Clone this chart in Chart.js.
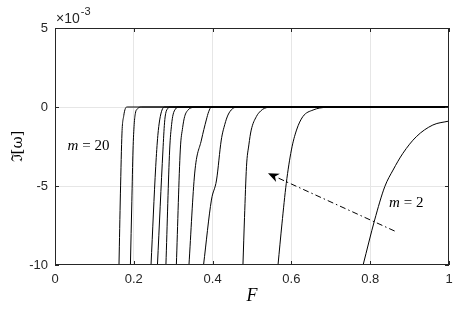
<!DOCTYPE html>
<html lang="en">
<head>
<meta charset="UTF-8">
<title>Im(omega) vs F</title>
<script src="https://cdn.jsdelivr.net/npm/chart.js"></script>
<style>
  html, body { margin: 0; padding: 0; background: #fff; }
  canvas { display: block; }
</style>
</head>
<body>
<canvas id="chart" width="472" height="316"></canvas>
<script>
// curves: F values and Im[omega] in units of 1e-3
// (leftmost curve is m = 20, rightmost is m = 2)
const F1 = [0.1624, 0.1660, 0.1700, 0.1745, 0.1785, 0.183, 1];
const W1 = [-10, -5.5, -1.65, -0.55, -0.1, 0, 0];
const F2 = [0.1914, 0.1950, 0.1980, 0.2010, 0.2040, 0.2100, 0.2200, 1];
const W2 = [-10, -6, -2.72, -1.1, -0.4, -0.1, 0, 0];
const F3 = [0.2437, 0.2556, 0.2610, 0.2657, 0.2716, 0.2780, 1];
const W3 = [-10, -3.78, -1.8, -0.82, -0.19, 0, 0];
const F4 = [0.2600, 0.2740, 0.2780, 0.2810, 0.2860, 0.2920, 1];
const W4 = [-10, -2.72, -1.0, -0.4, -0.1, 0, 0];
const F5 = [0.2815, 0.2910, 0.2960, 0.2995, 0.3060, 0.3130, 1];
const W5 = [-10, -2.72, -1.1, -0.5, -0.12, 0, 0];
const F6 = [0.3080, 0.3180, 0.3240, 0.3290, 0.3380, 0.3460, 0.3550, 1];
const W6 = [-10, -2.72, -1.3, -0.61, -0.18, -0.05, 0, 0];
const F7 = [0.3400, 0.3546, 0.3716, 0.3840, 0.3900, 0.3970, 1];
const W7 = [-10, -4.18, -2.09, -0.82, -0.3, 0, 0];
const F8 = [0.3770, 0.3970, 0.4100, 0.4220, 0.4310, 0.4390, 0.4500, 0.4640, 1];
const W8 = [-10, -5.89, -4.62, -2.09, -1.1, -0.51, -0.12, 0, 0];
const F9 = [0.4770, 0.4810, 0.4860, 0.4920, 0.4980, 0.5110, 0.5220, 0.5320, 0.5530, 1];
const W9 = [-10, -7, -3.78, -2.4, -1.46, -0.61, -0.25, -0.08, 0, 0];
const F10 = [0.5660, 0.5760, 0.5870, 0.6000, 0.6130, 0.6290, 0.6550, 0.6890, 0.7500, 1];
const W10 = [-10, -7.4, -4.83, -2.72, -1.46, -0.61, -0.19, -0.02, 0, 0];
const F11 = [0.7820, 0.8113, 0.8370, 0.8580, 0.8830, 0.9170, 0.9590, 1.0];
const W11 = [-10, -7.15, -5.04, -3.99, -2.93, -1.88, -1.14, -0.89];

const xTicks = [0, 0.2, 0.4, 0.6, 0.8, 1];
const yTicks = [-10, -5, 0, 5];

// arrow (tail -> head) and the two m labels, in data units
const arrowF = [0.862, 0.5406];
const arrowW = [-7.85, -4.2];
const labelText = ['20', '2'];
const labelF = [0.032, 0.848];
const labelW = [-2.75, -6.35];

const curves = [[F1, W1], [F2, W2], [F3, W3], [F4, W4], [F5, W5], [F6, W6],
                [F7, W7], [F8, W8], [F9, W9], [F10, W10], [F11, W11]];

const datasets = curves.map(c => ({
  data: c[0].map((f, i) => ({ x: f, y: c[1][i] })),
  borderColor: '#000',
  borderWidth: 1,
  pointRadius: 0,
  fill: false,
  cubicInterpolationMode: 'monotone'
}));

const ink = '#262626';
const sans = '"Liberation Sans", Arial, sans-serif';

const overlay = {
  id: 'overlay',
  afterDraw(chart) {
    const ctx = chart.ctx;
    const a = chart.chartArea;
    const xs = chart.scales.x, ys = chart.scales.y;
    ctx.save();

    // box and inward ticks
    ctx.strokeStyle = ink;
    ctx.lineWidth = 1;
    ctx.strokeRect(a.left + 0.5, a.top + 0.5, a.right - a.left - 1, a.bottom - a.top - 1);
    ctx.beginPath();
    xTicks.forEach(t => {
      const px = Math.round(xs.getPixelForValue(t)) + 0.5;
      ctx.moveTo(px, a.bottom); ctx.lineTo(px, a.bottom - 4);
      ctx.moveTo(px, a.top); ctx.lineTo(px, a.top + 4);
    });
    yTicks.forEach(t => {
      const py = Math.round(ys.getPixelForValue(t)) + 0.5;
      ctx.moveTo(a.left, py); ctx.lineTo(a.left + 4, py);
      ctx.moveTo(a.right, py); ctx.lineTo(a.right - 4, py);
    });
    ctx.stroke();

    // exponent
    ctx.fillStyle = ink;
    ctx.textBaseline = 'alphabetic';
    ctx.textAlign = 'left';
    ctx.font = '14px ' + sans;
    ctx.fillText('\u00d710', a.left + 1, 23);
    const w = ctx.measureText('\u00d710').width;
    ctx.font = '11px ' + sans;
    ctx.fillText('-3', a.left + 1 + w + 1, 15);

    // dash-dot arrow
    const x0 = xs.getPixelForValue(arrowF[0]), y0 = ys.getPixelForValue(arrowW[0]);
    const x1 = xs.getPixelForValue(arrowF[1]), y1 = ys.getPixelForValue(arrowW[1]);
    const ang = Math.atan2(y1 - y0, x1 - x0);
    const hl = 11, hw = 4.5;
    const bx = x1 - hl * Math.cos(ang), by = y1 - hl * Math.sin(ang);
    ctx.strokeStyle = '#000';
    ctx.setLineDash([6, 3, 1.5, 3]);
    ctx.beginPath();
    ctx.moveTo(x0, y0); ctx.lineTo(bx, by);
    ctx.stroke();
    ctx.setLineDash([]);
    ctx.fillStyle = '#000';
    ctx.beginPath();
    ctx.moveTo(x1, y1);
    ctx.lineTo(bx + hw * Math.sin(ang), by - hw * Math.cos(ang));
    ctx.lineTo(x1 - 0.7 * hl * Math.cos(ang), y1 - 0.7 * hl * Math.sin(ang));
    ctx.lineTo(bx - hw * Math.sin(ang), by + hw * Math.cos(ang));
    ctx.closePath();
    ctx.fill();

    // m labels
    labelText.forEach((t, i) => {
      let px = xs.getPixelForValue(labelF[i]);
      const py = ys.getPixelForValue(labelW[i]);
      ctx.font = 'italic 15px "Liberation Serif", "DejaVu Serif", serif';
      ctx.fillText('m', px, py);
      px += ctx.measureText('m').width;
      ctx.font = '15px "Liberation Serif", "DejaVu Serif", serif';
      ctx.fillText(' = ' + t, px, py);
    });

    // axis titles
    ctx.textAlign = 'center';
    ctx.textBaseline = 'middle';
    ctx.font = 'italic 18px "Liberation Serif", "DejaVu Serif", serif';
    ctx.fillText('F', (a.left + a.right) / 2, 296);
    ctx.translate(18, (a.top + a.bottom) / 2);
    ctx.rotate(-Math.PI / 2);
    ctx.font = '15px "DejaVu Serif", serif';
    ctx.fillText('\u2111[\u03c9]', 0, 0);
    ctx.restore();
  }
};

const edgeless = (ctx, lo, hi) => (ctx.tick && (ctx.tick.value === lo || ctx.tick.value === hi)) ? 'rgba(0,0,0,0)' : '#e6e6e6';

new Chart(document.getElementById('chart'), {
  type: 'line',
  data: { datasets },
  options: {
    responsive: false,
    animation: false,
    layout: { padding: { top: 28, right: 23, left: 0, bottom: 0 } },
    plugins: { legend: { display: false }, tooltip: { enabled: false } },
    scales: {
      x: {
        type: 'linear', min: 0, max: 1,
        afterBuildTicks: s => { s.ticks = xTicks.map(v => ({ value: v })); },
        afterFit: s => { s.height = 51; },
        ticks: { color: ink, font: { size: 13, family: sans }, padding: 7, callback: v => String(+v.toFixed(1)) },
        grid: { color: c => edgeless(c, 0, 1), drawTicks: false },
        border: { display: false }
      },
      y: {
        type: 'linear', min: -10, max: 5,
        afterBuildTicks: s => { s.ticks = yTicks.map(v => ({ value: v })); },
        afterFit: s => { s.width = 55; },
        ticks: { color: ink, font: { size: 13, family: sans }, padding: 7, callback: v => String(v) },
        grid: { color: c => edgeless(c, -10, 5), drawTicks: false },
        border: { display: false }
      }
    }
  },
  plugins: [overlay]
});
</script>
</body>
</html>
